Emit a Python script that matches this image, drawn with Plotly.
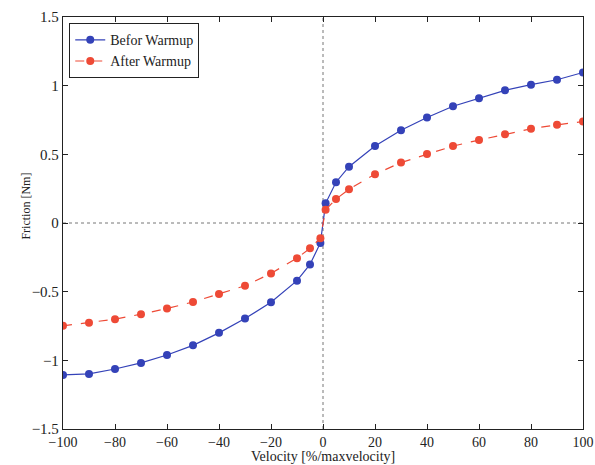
import plotly.graph_objects as go

velocity = [-100, -90, -80, -70, -60, -50, -40, -30, -20, -10, -5, -1,
            1, 5, 10, 20, 30, 40, 50, 60, 70, 80, 90, 100]
before = [-1.106, -1.099, -1.063, -1.019, -0.961, -0.891, -0.800, -0.696, -0.577, -0.420, -0.302, -0.145,
          0.143, 0.297, 0.410, 0.560, 0.676, 0.768, 0.850, 0.908, 0.966, 1.007, 1.043, 1.096]
after = [-0.749, -0.727, -0.700, -0.664, -0.623, -0.575, -0.517, -0.457, -0.367, -0.256, -0.184, -0.111,
         0.096, 0.174, 0.246, 0.355, 0.440, 0.502, 0.560, 0.604, 0.647, 0.686, 0.715, 0.739]
x_ticks = [-100, -80, -60, -40, -20, 0, 20, 40, 60, 80, 100]
y_ticks = [-1.5, -1, -0.5, 0, 0.5, 1, 1.5]
y_labels = ["\u22121.5", "\u22121", "\u22120.5", "0", "0.5", "1", "1.5"]

blue = "#3442b8"
red = "#ee4a36"
font = "Liberation Serif, Times New Roman, serif"

fig = go.Figure()
fig.add_trace(go.Scatter(x=velocity, y=before, mode="lines+markers", name="Befor Warmup",
                         line=dict(color=blue, width=1.2),
                         marker=dict(color=blue, size=8)))
fig.add_trace(go.Scatter(x=velocity, y=after, mode="lines+markers", name="After Warmup",
                         line=dict(color=red, width=1.2, dash="dash"),
                         marker=dict(color=red, size=8)))

fig.add_shape(type="line", xref="x", yref="paper", x0=0, x1=0, y0=0, y1=1,
              line=dict(color="#777", width=1, dash="dot"), layer="below")
fig.add_shape(type="line", xref="paper", yref="y", x0=0, x1=1, y0=0, y1=0,
              line=dict(color="#777", width=1, dash="dot"), layer="below")

axis_common = dict(showline=True, linecolor="#222", linewidth=1.3, mirror="ticks",
                   ticks="inside", ticklen=5, tickcolor="#222", tickwidth=1.2, showgrid=False,
                   zeroline=False, automargin=False)

fig.update_xaxes(range=[-100, 100], tickvals=x_ticks,
                 tickfont=dict(family=font, size=14, color="#222"), **axis_common)
fig.update_yaxes(range=[-1.5, 1.5], tickvals=y_ticks, ticktext=y_labels,
                 tickfont=dict(family=font, size=15, color="#222"), **axis_common)

plot_h = 465 - 17 - 36
fig.add_annotation(text="Velocity [%/maxvelocity]", xref="paper", yref="paper",
                   x=0.5, y=-36 / plot_h, xanchor="center", yanchor="bottom", showarrow=False,
                   borderpad=0,
                   font=dict(family=font, size=14, color="#222"))
fig.add_annotation(text="Friction [Nm]", xref="paper", yref="paper",
                   x=-0.073, y=0.54, xanchor="center", yanchor="middle", showarrow=False,
                   textangle=-90, font=dict(family=font, size=12, color="#222"))

fig.update_layout(
    width=595, height=465,
    margin=dict(l=63, r=12, t=17, b=36, autoexpand=False),
    plot_bgcolor="white", paper_bgcolor="white",
    showlegend=True,
    legend=dict(x=0.012, y=0.985, xanchor="left", yanchor="top",
                bgcolor="white", bordercolor="#222", borderwidth=1,
                font=dict(family=font, size=14, color="#222"),
                tracegroupgap=0, itemwidth=30),
)

fig.write_html("out.html")
